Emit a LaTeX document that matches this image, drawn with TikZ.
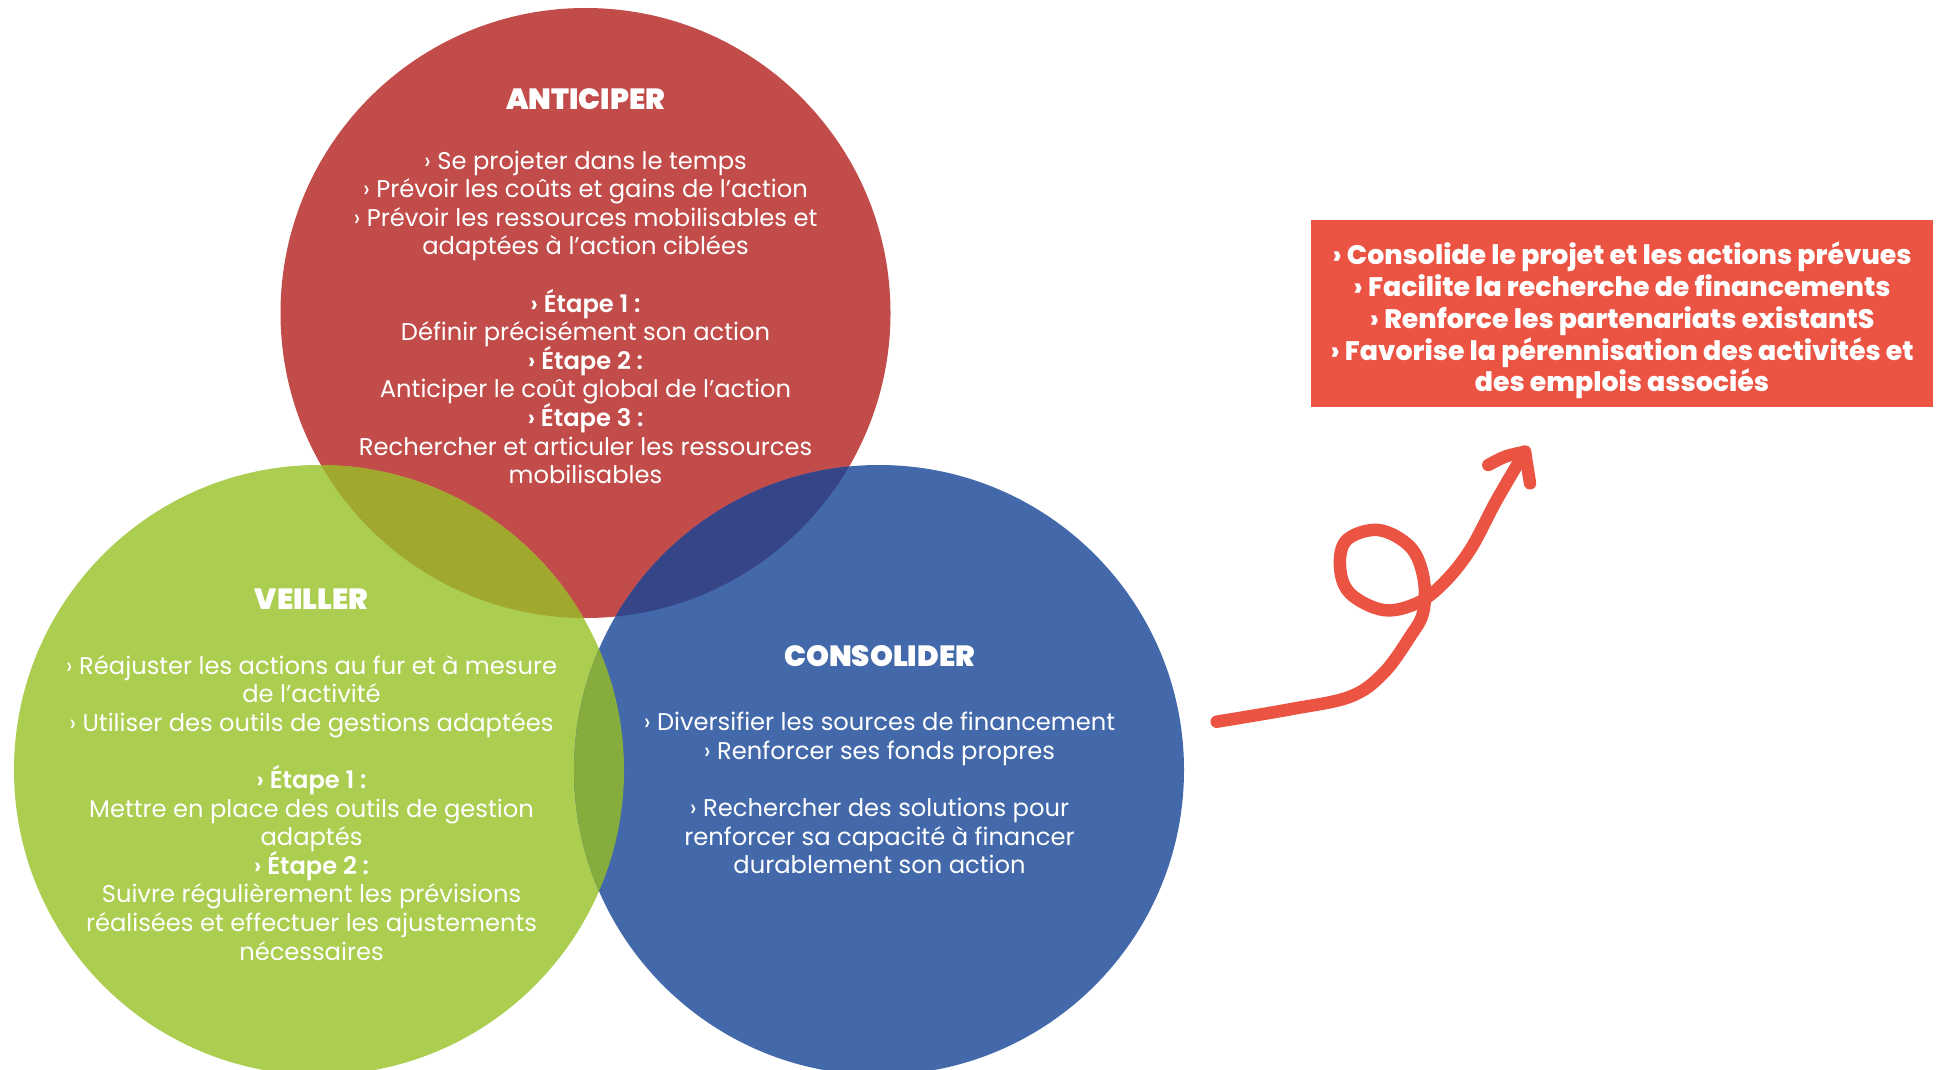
\documentclass[tikz,border=0pt]{standalone}
\usepackage{fontspec}
\setmainfont{Poppins}
\newfontfamily\titlefont{Poppins Black}
\newfontfamily\semifont{Poppins SemiBold}
\newfontfamily\heavyfont{Poppins ExtraBold}

\definecolor{cred}{HTML}{C14C4A}
\definecolor{cgreen}{HTML}{ABCD50}
\definecolor{cblue}{HTML}{4369AA}
\definecolor{credgreen}{HTML}{A0A82E}
\definecolor{credblue}{HTML}{364587}
\definecolor{cgreenblue}{HTML}{86AC3E}
\definecolor{accent}{HTML}{EB5343}

% fixed line pitch regardless of accents
\newcommand{\tightlines}{\setlength{\lineskiplimit}{-100pt}\setlength{\lineskip}{0pt}}

\tikzset{
  bodytext/.style={text=white, align=center, inner sep=0pt,
    font=\fontsize{24.2}{28.6}\selectfont\tightlines},
  titletext/.style={text=white, inner sep=0pt,
    font=\titlefont\fontsize{29.2}{30}\selectfont},
  boxtext/.style={text=white, align=center, inner sep=0pt,
    font=\heavyfont\fontsize{26.8}{31.7}\selectfont\tightlines},
  squiggle/.style={draw=accent, line width=12.5pt, line cap=round, line join=round},
}
\newcommand{\stepl}[1]{{\semifont › Étape #1 :}}

\begin{document}
\begin{tikzpicture}[x=1pt,y=-1pt]
  \clip (0,0) rectangle (1937,1070);
  \useasboundingbox (0,0) rectangle (1937,1070);

  % circle centres
  \coordinate (cA) at (585.5,313);
  \coordinate (cV) at (319,770);
  \coordinate (cC) at (879,770);

  % the three discs
  \fill[cred]   (cA) circle[radius=305];
  \fill[cgreen] (cV) circle[radius=305];
  \fill[cblue]  (cC) circle[radius=305];

  % pairwise overlaps
  \begin{scope}
    \clip (cA) circle[radius=305];
    \fill[credgreen] (cV) circle[radius=305];
    \fill[credblue]  (cC) circle[radius=305];
  \end{scope}
  \begin{scope}
    \clip (cV) circle[radius=305];
    \fill[cgreenblue] (cC) circle[radius=305];
  \end{scope}

  % ANTICIPER
  \node[titletext] (tA) at (585.5,99) {ANTICIPER};
  \node[bodytext] (bA) at (585.5,317.3) {%
    › Se projeter dans le temps\\
    › Prévoir les coûts et gains de l’action\\
    › Prévoir les ressources mobilisables et\\
    adaptées à l’action ciblées\\[28.6pt]
    \stepl{1}\\
    Définir précisément son action\\
    \stepl{2}\\
    Anticiper le coût global de l’action\\
    \stepl{3}\\
    Rechercher et articuler les ressources\\
    mobilisables};

  % VEILLER
  \node[titletext] (tV) at (311.5,599) {VEILLER};
  \node[bodytext] (bV) at (311.5,807.8) {%
    › Réajuster les actions au fur et à mesure\\
    de l’activité\\
    › Utiliser des outils de gestions adaptées\\[28.6pt]
    \stepl{1}\\
    Mettre en place des outils de gestion\\
    adaptés\\
    \stepl{2}\\
    Suivre régulièrement les prévisions\\
    réalisées et effectuer les ajustements\\
    nécessaires};

  % CONSOLIDER
  \node[titletext] (tC) at (879.5,656) {CONSOLIDER};
  \node[bodytext] (bC) at (879.5,793) {%
    › Diversifier les sources de financement\\
    › Renforcer ses fonds propres\\[28.6pt]
    › Rechercher des solutions pour\\
    renforcer sa capacité à financer\\
    durablement son action};

  % results box
  \node[fill=accent, minimum width=622pt, minimum height=187pt, inner sep=0pt]
    (box) at (1622,313.2) {};
  \node[boxtext] (boxt) at (1622,320.5) {%
    › Consolide le projet et les actions prévues\\
    › Facilite la recherche de financements\\
    › Renforce les partenariats existantS\\
    › Favorise la pérennisation des activités et\\
    des emplois associés};

  % hand-drawn looping arrow
  \coordinate (tail) at (1216.7,721.7);
  \coordinate (tip)  at (1525,451.7);
  \coordinate (barbL) at (1488.3,465);
  \coordinate (barbR) at (1530,483.3);
  \draw[squiggle] plot[smooth, tension=0.6] coordinates {
    (tail) (1290,709.3) (1350,696.7) (1383.3,673.3) (1410,636.7)
    (1423.3,611.7) (1423.3,576.7) (1410,546.7) (1378.3,530)
    (1346.7,540) (1340,566.7) (1350,593.3) (1383.3,610)
    (1416.7,603.3) (1443.3,583.3) (1470,550) (1496.7,500) (tip)};
  \draw[squiggle] (barbL) .. controls (1505,456) .. (tip) -- (barbR);
\end{tikzpicture}
\end{document}
